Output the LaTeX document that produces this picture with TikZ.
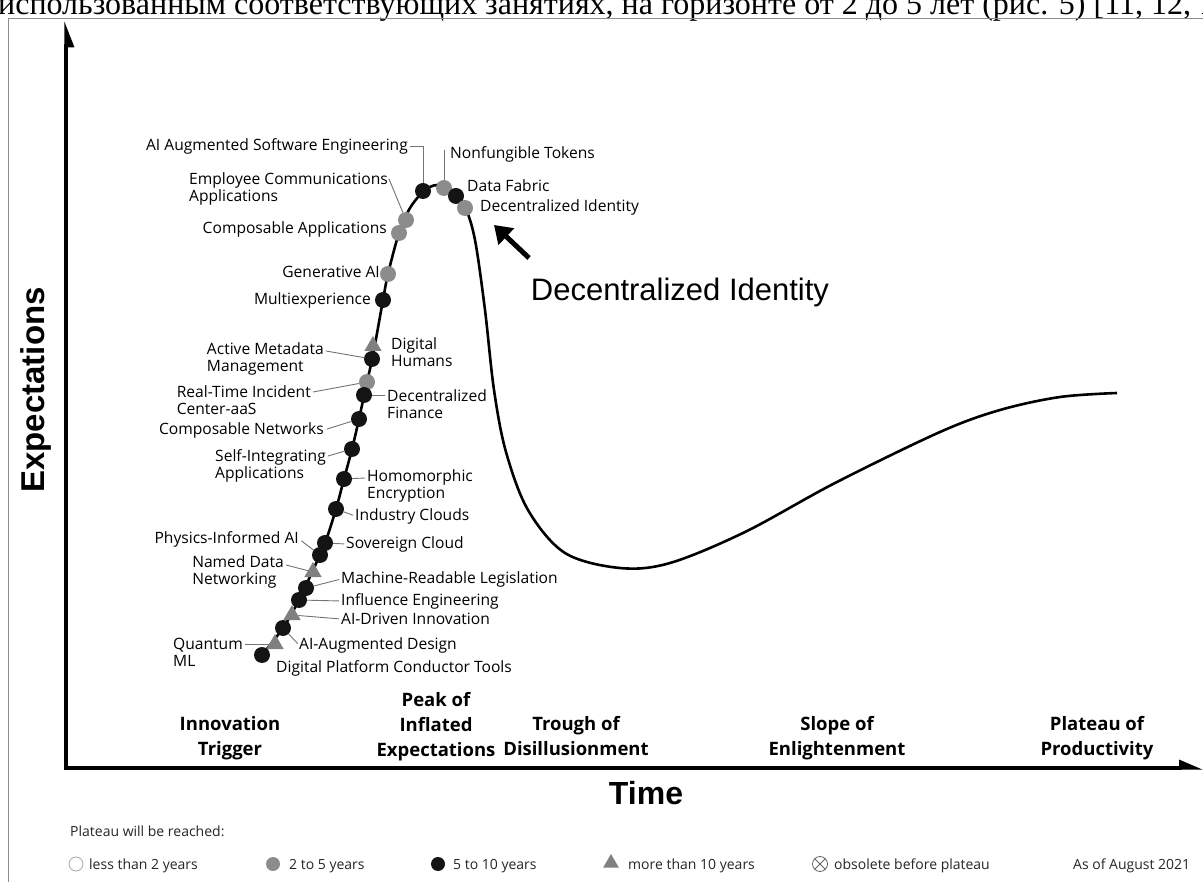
\documentclass[tikz,border=0pt]{standalone}
\usepackage{fontspec}
\setmainfont{Liberation Sans}
\newfontfamily\gfont{Open Sans}
\newfontfamily\rufont{Liberation Serif}
\usetikzlibrary{arrows.meta,shapes.geometric}

\tikzset{
  hype/.style={line width=2.6pt},
  early/.style={circle, fill=black!92, inner sep=0pt, minimum size=16pt},
  mid/.style={circle, fill=black!45, inner sep=0pt, minimum size=16pt},
  late/.style={regular polygon, regular polygon sides=3, fill=black!50, inner sep=0pt, minimum size=20pt},
  lbl/.style={inner sep=0pt, font=\gfont\fontsize{15.6}{17}\selectfont, align=left},
  lead/.style={black!55, line width=0.9pt},
  phase/.style={inner sep=0pt, anchor=north, font=\gfont\bfseries\fontsize{18.5}{25}\selectfont, align=center},
  lgd/.style={inner sep=0pt, font=\gfont\fontsize{14}{16}\selectfont, text=black!85, anchor=base west}
}

\begin{document}
\begin{tikzpicture}[x=1pt,y=-1pt]
%\draw[help lines,step=50] (0,0) grid (1203,882);
\useasboundingbox (0,0) rectangle (1203,882);
\fill[white] (0,0) rectangle (1203,882);

% page line and frame
\node[anchor=base west, inner sep=0pt, font=\rufont\fontsize{32}{32}\selectfont] (pageline) at (-2,15) {использованным соответствующих занятиях, на горизонте от 2 до 5 лет (рис. 5) [11, 12, 13]};
\draw[black!45, line width=1pt] (8,882) -- (8,19) -- (1203,19);

% axes
\coordinate (ytop) at (66,21);
\coordinate (xend) at (1203,768);
\draw[line width=3.2pt, {Triangle[harpoon,swap,length=22pt,width=16pt]}-{Triangle[harpoon,length=20pt,width=16pt]}] (ytop) |- (xend);
\node[rotate=90, font=\bfseries\fontsize{33}{33}\selectfont] (expect) at (36,390) {Expectations};
\node[font=\bfseries\fontsize{32}{32}\selectfont] (time) at (646,793) {Time};

% the curve
\draw[hype] plot[smooth, tension=0.55] coordinates {(262,655) (283,628) (299,600) (313,570) (325,543) (336,509) (344,479) (352,449) (359,419) (367,382) (373,355) (383,300) (388,274) (399,233) (410,208) (424,191) (437,185) (452,190) (465,207) (475,240) (485,310) (494,390) (506,452) (528,510) (565,553) (620,568) (670,563) (745,532) (835,483) (940,432) (1000,410) (1060,397) (1117,393)};

% markers
\node[early] (aise) at (423,191) {};
\node[mid] (nft) at (444,188) {};
\node[early] (df) at (456,196) {};
\node[mid] (di) at (465,208) {};
\node[mid] (eca) at (406,220) {};
\node[mid] (ca) at (399,233) {};
\node[mid] (gai) at (388,274) {};
\node[early] (mx) at (383,300) {};
\node[late] (dh) at (373,346) {};
\node[early] (amm) at (372,359) {};
\node[mid] (rti) at (367,382) {};
\node[early] (dfi) at (364,395) {};
\node[early] (cn) at (359,419) {};
\node[early] (sia) at (352,449) {};
\node[early] (he) at (344,479) {};
\node[early] (ic) at (336,509) {};
\node[early] (sc) at (325,543) {};
\node[early] (pia) at (320,555) {};
\node[late] (ndn) at (313,572) {};
\node[early] (mrl) at (306,588) {};
\node[early] (ie) at (299,600) {};
\node[late] (aidi) at (292,615) {};
\node[early] (aiad) at (283,628) {};
\node[late] (qml) at (275,644) {};
\node[early] (dpct) at (262,655) {};

% labels
\node[lbl, anchor=east] (aisel) at (408,146) {AI Augmented Software Engineering};
\node[lbl, anchor=west] (nftl) at (450,154) {Nonfungible Tokens};
\node[lbl, anchor=west] (dfl) at (467,186) {Data Fabric};
\node[lbl, anchor=west] (dil) at (480,207) {Decentralized Identity};
\node[lbl, anchor=east] (ecal) at (388,189) {Employee Communications\\Applications};
\node[lbl, anchor=east] (cal) at (387,229) {Composable Applications};
\node[lbl, anchor=east] (gail) at (380,272) {Generative AI};
\node[lbl, anchor=east] (mxl) at (371,300) {Multiexperience};
\node[lbl, anchor=east] (amml) at (324,359) {Active Metadata\\Management};
\node[lbl, anchor=west] (dhl) at (391,352) {Digital\\Humans};
\node[lbl, anchor=east] (rtil) at (311,400) {Real-Time Incident\\Center-aaS};
\node[lbl, anchor=west] (dfil) at (387,404) {Decentralized\\Finance};
\node[lbl, anchor=east] (cnl) at (324,430) {Composable Networks};
\node[lbl, anchor=east] (sial) at (326,466) {Self-Integrating\\Applications};
\node[lbl, anchor=west] (hel) at (367,486) {Homomorphic\\Encryption};
\node[lbl, anchor=west] (icl) at (355,516) {Industry Clouds};
\node[lbl, anchor=east] (pial) at (299,539) {Physics-Informed AI};
\node[lbl, anchor=west] (scl) at (346,544) {Sovereign Cloud};
\node[lbl, anchor=east] (ndnl) at (284,572) {Named Data\\Networking};
\node[lbl, anchor=west] (mrll) at (341,579) {Machine-Readable Legislation};
\node[lbl, anchor=west] (iel) at (341,601) {Influence Engineering};
\node[lbl, anchor=west] (aidil) at (341,619) {AI-Driven Innovation};
\node[lbl, anchor=east] (qmll) at (243,652) {Quantum\\ML};
\node[lbl, anchor=west] (aiadl) at (299,645) {AI-Augmented Design};
\node[lbl, anchor=west] (dpctl) at (276,668) {Digital Platform Conductor Tools};

% leader lines
\coordinate (nftc) at (444,150);
\coordinate (ecac) at (389,179);
\coordinate (ammc) at (326,351);
\coordinate (rtic) at (313,392);
\coordinate (dfic) at (385,395);
\coordinate (siac) at (328,456);
\coordinate (hec) at (365,478);
\coordinate (ndnc) at (286,565);
\coordinate (qmlc) at (245,644);
\draw[lead] ([xshift=2pt]aisel.east) -| (aise);
\draw[lead] (nftc) -- (nft);
\draw[lead] (ecac) -- (eca);
\draw[lead] (ammc) -- (amm);
\draw[lead] (rtic) -- (rti);
\draw[lead] (dfic) -- (dfi);
\draw[lead, shorten <=3pt] (cnl.east) -- (cn);
\draw[lead] (siac) -- (sia);
\draw[lead] (hec) -- (he);
\draw[lead, shorten <=2pt] (icl.west) -- (ic);
\draw[lead, shorten <=3pt] (pial.east) -- (pia);
\draw[lead, shorten <=2pt] (scl.west) -- (sc);
\draw[lead] (ndnc) -- (ndn);
\draw[lead, shorten <=2pt] (mrll.west) -- (mrl);
\draw[lead, shorten <=2pt] (iel.west) -- (ie);
\draw[lead, shorten <=2pt] (aidil.west) -- (aidi);
\draw[lead] (qmlc) -- (qml);
\draw[lead, shorten <=2pt] (aiadl.west) -- (aiad);

% highlighted technology
\node[font=\fontsize{31}{31}\selectfont] (dibig) at (680,292) {Decentralized Identity};
\coordinate (ditail) at (529,258);
\coordinate (ditip) at (494,225);
\draw[line width=5pt, -{Triangle[length=17pt,width=22pt]}] (ditail) -- (ditip);

% phases
\node[phase] (trigger) at (230,716) {Innovation\\Trigger};
\node[phase] (peak) at (436,692) {Peak of\\Inflated\\Expectations};
\node[phase] (trough) at (576,716) {Trough of\\Disillusionment};
\node[phase] (slope) at (837,716) {Slope of\\Enlightenment};
\node[phase] (plateau) at (1097,716) {Plateau of\\Productivity};

% legend
\node[lgd] (reach) at (70,836) {Plateau will be reached:};
\node[circle, draw=black!35, line width=0.8pt, inner sep=0pt, minimum size=14pt] (k1) at (76,864) {};
\node[lgd] (k1l) at (89,869) {less than 2 years};
\node[mid, minimum size=14pt] (k2) at (273,864) {};
\node[lgd] (k2l) at (289,869) {2 to 5 years};
\node[early, minimum size=14pt] (k3) at (438,864) {};
\node[lgd] (k3l) at (453,869) {5 to 10 years};
\node[late, minimum size=18pt] (k4) at (611,863) {};
\node[lgd] (k4l) at (628,869) {more than 10 years};
\node[circle, draw=black!60, line width=0.8pt, inner sep=0pt, minimum size=15pt] (k5) at (820,864) {};
\draw[black!60, line width=0.8pt] (k5.north west) -- (k5.south east) (k5.north east) -- (k5.south west);
\node[lgd] (k5l) at (834,869) {obsolete before plateau};
\node[lgd] (asof) at (1073,869) {As of August 2021};
\end{tikzpicture}
\end{document}
